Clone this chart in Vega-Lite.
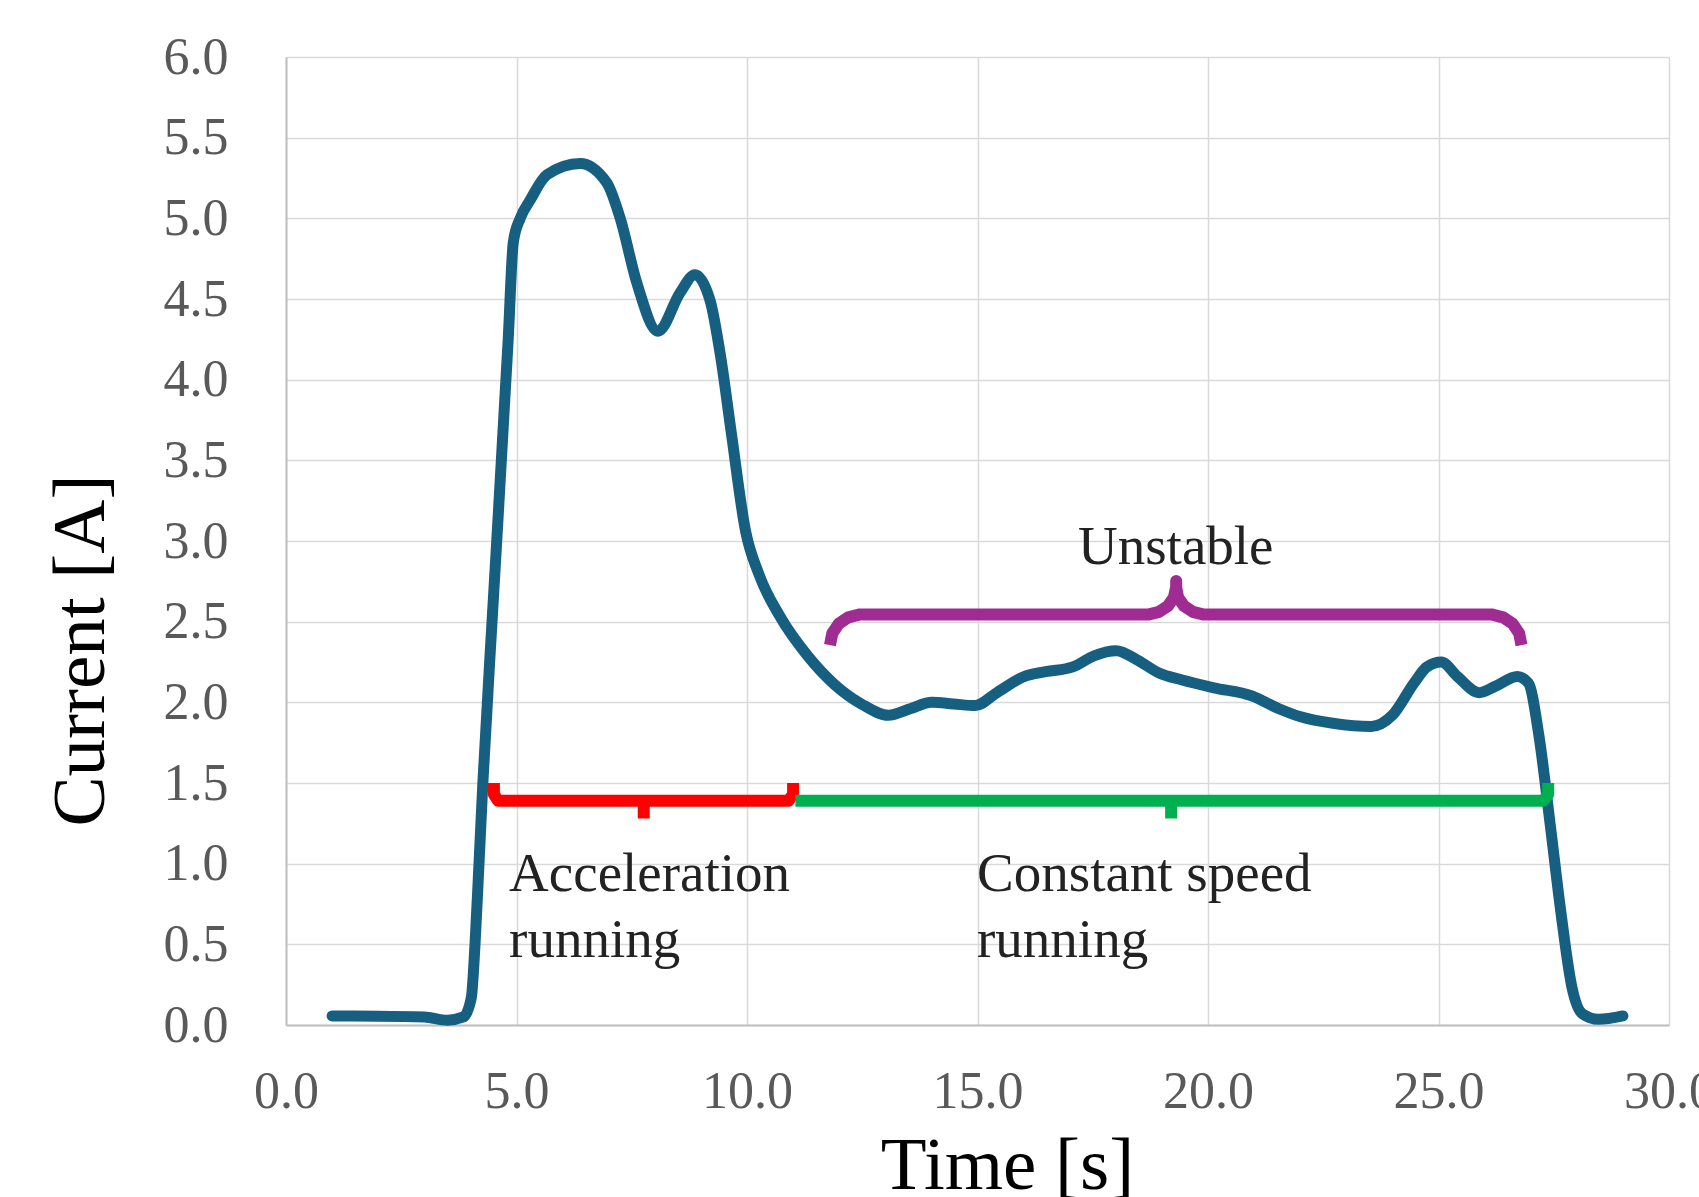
{
  "$schema": "https://vega.github.io/schema/vega-lite/v6.json",
  "width": 1383,
  "height": 968,
  "autosize": {"type": "none"},
  "padding": {"left": 286, "top": 57, "right": 30, "bottom": 172},
  "background": "white",
  "config": {
    "view": {"stroke": null},
    "font": "Liberation Serif"
  },
  "datasets": {
    "curve": [
      {"t": 1.0, "I": 0.056}, {"t": 2.0, "I": 0.055}, {"t": 3.0, "I": 0.05}, {"t": 3.5, "I": 0.03},
      {"t": 3.85, "I": 0.05}, {"t": 4.02, "I": 0.17}, {"t": 4.1, "I": 0.5}, {"t": 4.17, "I": 0.9},
      {"t": 4.27, "I": 1.5}, {"t": 4.5, "I": 2.65}, {"t": 4.82, "I": 4.25}, {"t": 4.93, "I": 4.85},
      {"t": 5.08, "I": 5.0}, {"t": 5.29, "I": 5.11}, {"t": 5.66, "I": 5.27}, {"t": 6.38, "I": 5.34},
      {"t": 6.96, "I": 5.22}, {"t": 7.25, "I": 5.0}, {"t": 7.61, "I": 4.6}, {"t": 8.07, "I": 4.3},
      {"t": 8.55, "I": 4.54}, {"t": 8.87, "I": 4.65}, {"t": 9.2, "I": 4.49}, {"t": 9.43, "I": 4.14},
      {"t": 9.66, "I": 3.67}, {"t": 9.97, "I": 3.06}, {"t": 10.25, "I": 2.8}, {"t": 10.72, "I": 2.53},
      {"t": 11.31, "I": 2.29}, {"t": 11.9, "I": 2.11}, {"t": 12.48, "I": 1.99}, {"t": 13.07, "I": 1.92},
      {"t": 13.54, "I": 1.96}, {"t": 14.01, "I": 2.0}, {"t": 14.48, "I": 1.99}, {"t": 14.95, "I": 1.98},
      {"t": 15.42, "I": 2.06}, {"t": 16.01, "I": 2.16}, {"t": 16.48, "I": 2.19}, {"t": 17.07, "I": 2.22},
      {"t": 17.54, "I": 2.29}, {"t": 18.01, "I": 2.32}, {"t": 18.48, "I": 2.26}, {"t": 18.95, "I": 2.18},
      {"t": 19.42, "I": 2.14}, {"t": 20.13, "I": 2.09}, {"t": 20.95, "I": 2.04}, {"t": 21.54, "I": 1.96},
      {"t": 22.01, "I": 1.91}, {"t": 22.71, "I": 1.87}, {"t": 23.54, "I": 1.85}, {"t": 24.0, "I": 1.92},
      {"t": 24.47, "I": 2.12}, {"t": 24.75, "I": 2.22}, {"t": 25.06, "I": 2.25}, {"t": 25.41, "I": 2.16},
      {"t": 25.88, "I": 2.06}, {"t": 26.24, "I": 2.1}, {"t": 26.71, "I": 2.16}, {"t": 26.95, "I": 2.12},
      {"t": 27.18, "I": 1.79}, {"t": 27.42, "I": 1.25}, {"t": 27.65, "I": 0.71}, {"t": 27.89, "I": 0.24},
      {"t": 28.12, "I": 0.07}, {"t": 28.47, "I": 0.035}, {"t": 29.0, "I": 0.056}
    ],
    "brackets": [
      {"seg": "r1", "c": "red", "t": 4.51, "I": 1.5},
      {"seg": "r1", "c": "red", "t": 4.51, "I": 1.43},
      {"seg": "r1", "c": "red", "t": 4.6, "I": 1.39},
      {"seg": "r1", "c": "red", "t": 10.9, "I": 1.39},
      {"seg": "r1", "c": "red", "t": 11.0, "I": 1.43},
      {"seg": "r1", "c": "red", "t": 11.0, "I": 1.5},
      {"seg": "r2", "c": "red", "t": 7.76, "I": 1.39},
      {"seg": "r2", "c": "red", "t": 7.76, "I": 1.28},
      {"seg": "g1", "c": "green", "t": 11.05, "I": 1.39},
      {"seg": "g1", "c": "green", "t": 27.27, "I": 1.39},
      {"seg": "g1", "c": "green", "t": 27.38, "I": 1.43},
      {"seg": "g1", "c": "green", "t": 27.38, "I": 1.5},
      {"seg": "g2", "c": "green", "t": 19.2, "I": 1.39},
      {"seg": "g2", "c": "green", "t": 19.2, "I": 1.28},
      {"seg": "p1", "c": "purple", "t": 11.8, "I": 2.355},
      {"seg": "p1", "c": "purple", "t": 11.85, "I": 2.427},
      {"seg": "p1", "c": "purple", "t": 11.99, "I": 2.487},
      {"seg": "p1", "c": "purple", "t": 12.2, "I": 2.527},
      {"seg": "p1", "c": "purple", "t": 12.45, "I": 2.545},
      {"seg": "p1", "c": "purple", "t": 18.72, "I": 2.545},
      {"seg": "p1", "c": "purple", "t": 18.94, "I": 2.561},
      {"seg": "p1", "c": "purple", "t": 19.13, "I": 2.597},
      {"seg": "p1", "c": "purple", "t": 19.26, "I": 2.651},
      {"seg": "p1", "c": "purple", "t": 19.31, "I": 2.715},
      {"seg": "p1", "c": "purple", "t": 19.31, "I": 2.752},
      {"seg": "p1", "c": "purple", "t": 19.31, "I": 2.715},
      {"seg": "p1", "c": "purple", "t": 19.35, "I": 2.651},
      {"seg": "p1", "c": "purple", "t": 19.48, "I": 2.597},
      {"seg": "p1", "c": "purple", "t": 19.67, "I": 2.561},
      {"seg": "p1", "c": "purple", "t": 19.89, "I": 2.545},
      {"seg": "p1", "c": "purple", "t": 26.15, "I": 2.545},
      {"seg": "p1", "c": "purple", "t": 26.4, "I": 2.527},
      {"seg": "p1", "c": "purple", "t": 26.61, "I": 2.487},
      {"seg": "p1", "c": "purple", "t": 26.75, "I": 2.427},
      {"seg": "p1", "c": "purple", "t": 26.8, "I": 2.355}
    ],
    "centerLabels": [
      {"t": 19.3, "I": 2.86, "label": "Unstable"}
    ],
    "leftLabels": [
      {"t": 4.84, "I": 0.833, "label": "Acceleration\nrunning"},
      {"t": 14.99, "I": 0.833, "label": "Constant speed\nrunning"}
    ]
  },
  "layer": [
    {
      "data": {"name": "curve"},
      "mark": {"type": "line", "interpolate": "monotone", "color": "#175F80", "strokeWidth": 11, "strokeCap": "round", "strokeJoin": "round", "clip": false},
      "encoding": {
        "x": {
          "field": "t", "type": "quantitative",
          "scale": {"domain": [0, 30], "nice": false, "zero": false},
          "axis": {
            "title": "Time [s]",
            "values": [0, 5, 10, 15, 20, 25, 30],
            "format": ".1f",
            "grid": true, "gridColor": "#d9d9d9", "gridWidth": 1.5,
            "domainColor": "#bfbfbf", "domainWidth": 2,
            "ticks": false, "tickSize": 0,
            "labelFont": "Liberation Serif", "labelFontSize": 52, "labelColor": "#595959",
            "labelBaseline": "alphabetic", "labelPadding": 82, "labelFlush": false, "labelOverlap": false,
            "titleFont": "Liberation Serif", "titleFontSize": 75, "titleFontWeight": "normal", "titleColor": "#000000",
            "titleX": 721, "titleY": 163, "titleAlign": "center", "titleBaseline": "alphabetic"
          }
        },
        "y": {
          "field": "I", "type": "quantitative",
          "scale": {"domain": [0, 6], "nice": false},
          "axis": {
            "title": "Current [A]",
            "values": [0, 0.5, 1, 1.5, 2, 2.5, 3, 3.5, 4, 4.5, 5, 5.5, 6],
            "format": ".1f",
            "grid": true, "gridColor": "#d9d9d9", "gridWidth": 1.5,
            "domainColor": "#bfbfbf", "domainWidth": 2,
            "ticks": false, "tickSize": 0,
            "labelFont": "Liberation Serif", "labelFontSize": 52, "labelColor": "#595959",
            "labelPadding": 58, "labelFlush": false, "labelOverlap": false, "labelBaseline": "middle",
            "titleFont": "Liberation Serif", "titleFontSize": 75, "titleFontWeight": "normal", "titleColor": "#000000",
            "titleAngle": -90, "titleX": -183, "titleY": 593, "titleAlign": "center", "titleBaseline": "alphabetic"
          }
        }
      }
    },
    {
      "data": {"name": "brackets"},
      "mark": {"type": "line", "strokeWidth": 12, "strokeJoin": "round", "strokeCap": "butt", "clip": false},
      "encoding": {
        "x": {"field": "t", "type": "quantitative"},
        "y": {"field": "I", "type": "quantitative"},
        "detail": {"field": "seg"},
        "order": {"value": null},
        "color": {
          "field": "c", "type": "nominal",
          "scale": {"domain": ["red", "green", "purple"], "range": ["#FF0000", "#00B050", "#A02B93"]},
          "legend": null
        }
      }
    },
    {
      "data": {"name": "centerLabels"},
      "mark": {"type": "text", "font": "Liberation Serif", "fontSize": 55, "color": "#222222", "baseline": "alphabetic", "align": "center"},
      "encoding": {
        "x": {"field": "t", "type": "quantitative"},
        "y": {"field": "I", "type": "quantitative"},
        "text": {"field": "label"}
      }
    },
    {
      "data": {"name": "leftLabels"},
      "mark": {"type": "text", "font": "Liberation Serif", "fontSize": 55, "color": "#222222", "baseline": "alphabetic", "align": "left", "lineBreak": "\n", "lineHeight": 66},
      "encoding": {
        "x": {"field": "t", "type": "quantitative"},
        "y": {"field": "I", "type": "quantitative"},
        "text": {"field": "label"}
      }
    }
  ]
}
